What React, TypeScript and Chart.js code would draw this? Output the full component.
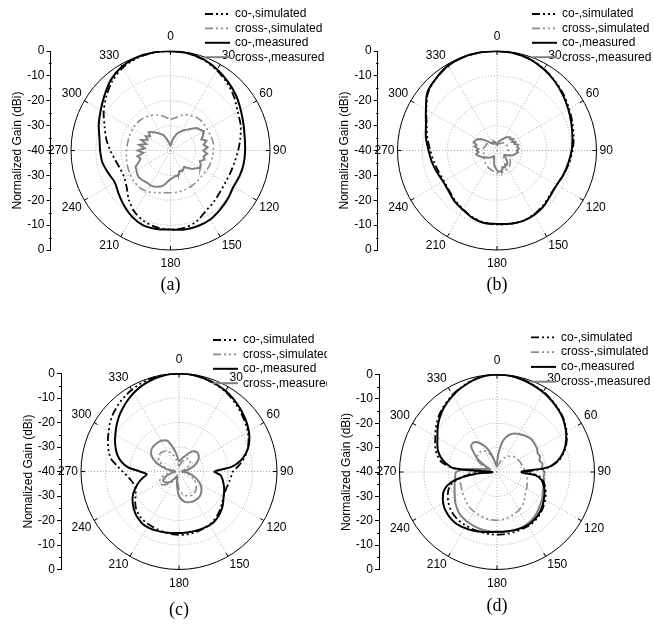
import React, { useEffect, useRef } from "react";
import { Chart, registerables } from "chart.js";

Chart.register(...registerables);
Chart.defaults.font.family = 'Arial, "Liberation Sans", Helvetica, sans-serif';
Chart.defaults.font.size = 12;
Chart.defaults.color = "#000";

// ---------- categories / labels ----------
const ANGLES_10 = Array.from({ length: 36 }, (_, i) => i * 10);
const ANGLES_5 = Array.from({ length: 72 }, (_, i) => i * 5);
const ANGLE_TICKS = [0, 30, 60, 90, 120, 150, 180, 210, 240, 270, 300, 330];
const ANGLE_LABELS = ["0", "30", "60", "90", "120", "150", "180", "210", "240", "270", "300", "330"];
const RING_VALUES = [-30, -20, -10];
const GAIN_MIN = -40;
const GAIN_MAX = 0;
const LEGEND_LABELS = ["co-,simulated", "cross-,simulated", "co-,measured", "cross-,measured"];

// ---------- panel (a) ----------
const A_CO_SIM = [0, -0.3, -1.2, -2.8, -4.6, -6.6, -8.8, -10.0, -11.5, -12.8, -13.8, -14.3, -14.5, -14.0, -13.0, -11.8, -9.6, -8.4, -8.2, -8.6, -9.6, -11.3, -14.0, -17.0, -18.5, -18.5, -17.5, -15.8, -13.8, -11.8, -9.0, -6.3, -3.6, -1.6, -0.5, -0.1];
const A_CO_MEAS = [0, -0.3, -1.0, -2.4, -4.0, -5.6, -7.4, -8.8, -9.7, -10.0, -10.1, -10.4, -10.8, -9.9, -9.0, -8.0, -7.7, -7.7, -8.2, -8.0, -8.0, -9.2, -11.0, -12.8, -14.2, -13.4, -12.2, -11.7, -11.0, -9.3, -7.6, -5.4, -2.8, -1.0, -0.2, 0];
const A_X_SIM = [-27.5, -26.5, -24.8, -23.8, -23, -22.8, -23, -22.8, -22.5, -22.8, -23, -23.2, -23.5, -23.8, -23.6, -23.4, -23.2, -23, -23, -22.8, -22, -21, -20.6, -20.8, -21.2, -21.6, -22, -22.3, -22.5, -22.5, -22.5, -22.6, -23, -23.8, -24.8, -26.2];
const A_X_MEAS = [
  -38, -37.5, -36, -34.5, -33, -32, -31, -30, -29, -27.5, -26, -25.5,
  -24.5, -25.5, -26.8, -25, -26.5, -25, -26.8, -25.2, -26.5, -25.8, -27.5, -26.5,
  -26.2, -27.5, -28.5, -30, -31.5, -31, -30.5, -31, -30, -29.5, -29.5, -29,
  -28.5, -27.5, -26, -25, -24.5, -24, -23.8, -24, -23.8, -23.5, -23.3, -23.6,
  -24.2, -24.5, -26.5, -27.5, -26.5, -29, -26.8, -29.5, -27.2, -30, -27.5, -29.8,
  -28.5, -30, -28.5, -29.5, -30.5, -31.5, -32.5, -33, -34.5, -36, -37, -38,
];

// ---------- panel (b) ----------
const B_CO_SIM = [0, -0.3, -1.0, -2.2, -3.6, -5.0, -6.5, -7.7, -8.7, -9.6, -10.6, -11.5, -12.3, -12.2, -11.2, -10.3, -9.9, -10.0, -10.3, -10.5, -11.4, -12.7, -13.8, -14.9, -15.4, -15.0, -14.2, -13.2, -11.6, -9.9, -7.2, -3.8, -2.1, -0.7, -0.1, 0];
const B_CO_MEAS = [0, -0.3, -1.0, -2.3, -3.8, -5.4, -6.9, -8.2, -9.2, -10.0, -10.9, -11.6, -12.3, -11.9, -10.8, -10.1, -9.8, -10.1, -10.5, -10.4, -11.2, -12.5, -13.4, -14.6, -15.0, -14.3, -13.4, -12.5, -11.0, -9.6, -7.0, -3.5, -2.0, -0.6, -0.1, 0];
const B_X_SIM = [-38, -37.5, -37, -36.5, -36, -35.5, -35.5, -35.5, -35.5, -35.5, -35, -34.5, -34, -33, -32, -31.5, -31, -31, -31, -31.5, -32, -32.5, -33, -33.5, -34, -34.5, -34.5, -34.5, -34.5, -35, -35, -35.5, -36, -36.5, -37, -37.5];
const B_X_MEAS = [
  -37.5, -37, -36.5, -36, -35.5, -35, -34.5, -33.5, -33, -32.5, -33, -32,
  -33, -31.8, -32.5, -31.2, -31.8, -31.2, -32, -31.5, -32.5, -33, -34, -35.5,
  -36.5, -36.5, -35.5, -34.5, -33.5, -33, -33.5, -32.5, -33, -32, -31.5, -31.5,
  -32, -33, -34, -35.5, -36.5, -37.5, -37.5, -37, -36.5, -36, -35.5, -35,
  -34.5, -33.5, -33, -32, -31.5, -32.5, -31.8, -32.5, -30.8, -31.5, -30, -30.5,
  -31, -32, -33.5, -35, -36, -36.5, -37, -36.5, -36, -36.5, -37, -37.5,
];

// ---------- panel (c) ----------
const C_CO_SIM = [
  0, -0.1, -0.3, -0.7, -1.2, -1.7, -2.3, -3.1, -4.0, -4.9, -5.8, -6.7,
  -7.6, -8.7, -10.0, -11.6, -13.5, -15.8, -18.0, -18.6, -19.0, -19.3, -19.5, -19.4,
  -19.1, -18.4, -17.6, -16.8, -16.0, -15.4, -15.0, -14.7, -14.5, -14.3, -14.2, -14.1,
  -14.1, -14.2, -14.4, -14.6, -14.8, -15.0, -15.1, -15.3, -15.6, -16.2, -17.0, -18.2,
  -19.5, -20.5, -21.0, -20.8, -20.0, -18.8, -17.0, -14.8, -12.0, -10.4, -9.2, -8.0,
  -6.9, -5.6, -4.5, -3.6, -2.8, -2.1, -1.5, -1.0, -0.6, -0.3, -0.1, 0,
];
const C_CO_MEAS = [
  0, -0.1, -0.3, -0.6, -1.0, -1.5, -2.0, -2.7, -3.5, -4.3, -5.2, -6.1,
  -7.1, -8.3, -9.8, -11.8, -14.5, -18.5, -25.5, -23.0, -22.0, -21.2, -20.4, -19.7,
  -19.0, -18.0, -17.0, -16.2, -15.5, -15.0, -14.8, -14.8, -14.8, -14.9, -14.9, -14.9,
  -14.9, -14.8, -14.6, -14.4, -14.2, -14.0, -13.9, -14.0, -14.5, -15.1, -16.0, -17.0,
  -18.1, -19.5, -21.3, -23.0, -25.0, -26.8, -24.0, -19.0, -16.0, -14.0, -12.5, -11.2,
  -10.0, -8.7, -7.4, -6.2, -5.1, -4.0, -3.0, -2.1, -1.4, -0.8, -0.4, -0.1,
];
const C_X_SIM = [-38, -37, -35.5, -34, -33.5, -34, -35.5, -37, -38.5, -39, -37.5, -35, -32.5, -30.8, -29.5, -29, -29.3, -30.5, -33, -36.5, -38, -36, -33.5, -31.5, -31, -32, -35, -37.5, -36, -33, -30.5, -29.5, -29.5, -30.5, -32.5, -36];
const C_X_MEAS = [-36, -35, -33.5, -31, -29.3, -29.5, -31, -33.5, -36.5, -38.5, -36, -33, -30, -28, -26.8, -26.5, -26.7, -27.5, -30, -35, -38, -37, -34.5, -33, -32.5, -34.5, -37, -38.5, -35, -30.5, -27, -25.5, -25.3, -25.5, -26.8, -32];

// ---------- panel (d) ----------
const D_CO_SIM = [
  0, -0.1, -0.3, -0.6, -1.0, -1.5, -2.0, -2.6, -3.3, -4.0, -4.8, -5.8,
  -7.0, -8.4, -10.0, -12.0, -14.5, -19.0, -28.0, -23.0, -21.0, -19.8, -18.8, -17.9,
  -17.2, -16.5, -15.8, -15.3, -14.8, -14.5, -14.4, -14.4, -14.4, -14.4, -14.3, -14.3,
  -14.3, -14.3, -14.4, -14.5, -14.5, -14.5, -14.6, -14.6, -14.7, -15.0, -15.4, -16.0,
  -16.8, -17.7, -18.8, -20.5, -24.0, -29.0, -33.0, -22.5, -17.0, -14.8, -13.2, -12.0,
  -10.8, -9.3, -7.9, -6.6, -5.5, -4.5, -3.5, -2.6, -1.8, -1.1, -0.5, -0.1,
];
const D_CO_MEAS = [
  0, -0.1, -0.3, -0.7, -1.2, -1.7, -2.2, -2.8, -3.5, -4.2, -5.0, -6.1,
  -7.3, -8.7, -10.3, -12.3, -15.0, -19.5, -30.0, -24.0, -21.5, -20.3, -19.3, -18.5,
  -17.8, -17.0, -16.3, -15.7, -15.3, -15.0, -14.8, -14.9, -15.0, -15.2, -15.3, -15.4,
  -15.5, -15.3, -15.0, -14.6, -14.2, -13.8, -13.5, -13.2, -13.0, -13.1, -13.4, -13.8,
  -14.5, -15.5, -16.7, -19.0, -23.5, -31.0, -38.0, -22.0, -18.5, -16.0, -14.2, -13.0,
  -11.8, -10.2, -8.6, -7.2, -5.9, -4.8, -3.8, -2.8, -2.0, -1.2, -0.6, -0.2,
];
const D_X_SIM = [-38, -37, -35, -33, -31.5, -30.5, -30, -29.5, -29, -28.5, -27.5, -26.8, -26, -25, -23.2, -22, -21.2, -20.6, -20.2, -20.3, -20.8, -21.2, -21.8, -22.8, -23.6, -24.2, -24.8, -30, -37, -35, -31, -29.5, -29.2, -30, -32.5, -36];
const D_X_MEAS = [
  -36, -32, -27.5, -25, -23.5, -22.6, -22, -21.5, -21, -20.6, -20.6, -20.8,
  -21, -21.6, -21.2, -22, -21, -21.6, -20.5, -20.8, -20.4, -20.3, -19.8, -19.3,
  -18.5, -18, -17.4, -16.7, -16.1, -15.6, -15.3, -15.1, -15, -15.1, -15.2, -15.3,
  -15.3, -15.4, -15.5, -15.6, -15.8, -16, -16.2, -16.5, -16.8, -17.4, -18.2, -19,
  -20, -20.8, -21.5, -22, -22.5, -22.8, -23.2, -27, -33, -36, -37, -35.5,
  -33, -30, -27.5, -25, -24.5, -25, -26.5, -28.5, -31, -34, -36.5, -37.5,
];

// ---------- styles ----------
const DASH_DOT_DOT = [8, 3, 2, 3, 2, 3, 2, 3];
const STYLES = {
  coSim: { color: "#000000", width: 1.8, dash: DASH_DOT_DOT },
  xSim: { color: "#8c8c8c", width: 1.6, dash: DASH_DOT_DOT },
  coMeas: { color: "#000000", width: 2, dash: [] as number[] },
  xMeas: { color: "#808080", width: 2, dash: [] as number[] },
};
const LEGEND_ORDER = ["coSim", "xSim", "coMeas", "xMeas"];
const GRID_COLOR = "#a8a8a8";
const SANS = 'Arial, "Liberation Sans", Helvetica, sans-serif';
const SERIF = '"Times New Roman", "Liberation Serif", Times, serif';
const AXIS_W = 40;

const PANELS = [
  {
    key: "a", left: 0, top: 0, w: 327, h: 300, axisX: 50.5, cx: 170.5, cy: 150.5, R: 99.5,
    legendX: 205, legendY: 14, legendDy: 14.4, captionY: 285, caption: "(a)",
    yTitle: "Normalized Gain (dBi)", xMeasTension: 0,
    series: {
      coSim: { angles: ANGLES_10, gains: A_CO_SIM }, coMeas: { angles: ANGLES_10, gains: A_CO_MEAS },
      xSim: { angles: ANGLES_10, gains: A_X_SIM }, xMeas: { angles: ANGLES_5, gains: A_X_MEAS },
    },
  },
  {
    key: "b", left: 327, top: 0, w: 327, h: 300, axisX: 50.7, cx: 170, cy: 150.5, R: 99.5,
    legendX: 205, legendY: 14, legendDy: 14.4, captionY: 285, caption: "(b)",
    yTitle: "Normalized Gain (dBi)", xMeasTension: 0,
    series: {
      coSim: { angles: ANGLES_10, gains: B_CO_SIM }, coMeas: { angles: ANGLES_10, gains: B_CO_MEAS },
      xSim: { angles: ANGLES_10, gains: B_X_SIM }, xMeas: { angles: ANGLES_5, gains: B_X_MEAS },
    },
  },
  {
    key: "c", left: 0, top: 320, w: 327, h: 305, axisX: 61, cx: 179, cy: 151.5, R: 98,
    legendX: 213, legendY: 20, legendDy: 14.4, captionY: 290, caption: "(c)",
    yTitle: "Nomalized Gain (dBi)", xMeasTension: 0.3,
    series: {
      coSim: { angles: ANGLES_5, gains: C_CO_SIM }, coMeas: { angles: ANGLES_5, gains: C_CO_MEAS },
      xSim: { angles: ANGLES_10, gains: C_X_SIM }, xMeas: { angles: ANGLES_10, gains: C_X_MEAS },
    },
  },
  {
    key: "d", left: 327, top: 320, w: 327, h: 305, axisX: 52, cx: 170, cy: 152, R: 97.5,
    legendX: 204, legendY: 17.3, legendDy: 14.8, captionY: 286.7, caption: "(d)",
    yTitle: "Normalized Gain (dBi)", xMeasTension: 0.2,
    series: {
      coSim: { angles: ANGLES_5, gains: D_CO_SIM }, coMeas: { angles: ANGLES_5, gains: D_CO_MEAS },
      xSim: { angles: ANGLES_10, gains: D_X_SIM }, xMeas: { angles: ANGLES_5, gains: D_X_MEAS },
    },
  },
];

function toPoints(angles: number[], gains: number[]) {
  const pts = angles.map((a, i) => {
    const r = Math.max(0, gains[i] - GAIN_MIN);
    const t = (a * Math.PI) / 180;
    return { x: r * Math.sin(t), y: r * Math.cos(t) };
  });
  pts.push({ ...pts[0] });
  return pts;
}

function decorPlugin(p: any) {
  return {
    id: "polarDecor",
    beforeDatasetsDraw(chart: any) {
      const { ctx } = chart;
      const xs = chart.scales.x;
      const ys = chart.scales.y;
      const cx = xs.getPixelForValue(0);
      const cy = ys.getPixelForValue(0);
      const rad = (g: number) => cy - ys.getPixelForValue(g - GAIN_MIN);
      const R = rad(GAIN_MAX);
      ctx.save();
      ctx.lineWidth = 1;
      ctx.strokeStyle = GRID_COLOR;
      ctx.setLineDash([1, 2]);
      RING_VALUES.forEach((g) => {
        ctx.beginPath();
        ctx.arc(cx, cy, rad(g), 0, Math.PI * 2);
        ctx.stroke();
      });
      ANGLE_TICKS.forEach((a) => {
        const t = (a * Math.PI) / 180;
        ctx.beginPath();
        ctx.moveTo(cx, cy);
        ctx.lineTo(cx + R * Math.sin(t), cy - R * Math.cos(t));
        ctx.stroke();
      });
      ctx.setLineDash([]);
      ctx.strokeStyle = "#000";
      ctx.beginPath();
      ctx.arc(cx, cy, R, 0, Math.PI * 2);
      ctx.stroke();
      ANGLE_TICKS.forEach((a) => {
        const t = (a * Math.PI) / 180;
        ctx.beginPath();
        ctx.moveTo(cx + R * Math.sin(t), cy - R * Math.cos(t));
        ctx.lineTo(cx + (R - 4) * Math.sin(t), cy - (R - 4) * Math.cos(t));
        ctx.stroke();
      });
      ctx.restore();
    },
    afterDraw(chart: any) {
      const { ctx, chartArea } = chart;
      const xs = chart.scales.x;
      const ys = chart.scales.y;
      const cx = xs.getPixelForValue(0);
      const cy = ys.getPixelForValue(0);
      const R = cy - ys.getPixelForValue(GAIN_MAX - GAIN_MIN);
      ctx.save();
      // minor ticks on the gain axis
      ctx.strokeStyle = "#000";
      ctx.lineWidth = 1;
      const ax = Math.round(chartArea.left) + 0.5;
      for (let v = -35; v <= 35; v += 10) {
        const y = Math.round(ys.getPixelForValue(v)) + 0.5;
        ctx.beginPath();
        ctx.moveTo(ax - 2.5, y);
        ctx.lineTo(ax, y);
        ctx.stroke();
      }
      // angle labels
      ctx.fillStyle = "#000";
      ctx.font = `12px ${SANS}`;
      ANGLE_TICKS.forEach((a, i) => {
        const t = (a * Math.PI) / 180;
        const sx = Math.sin(t);
        const sy = -Math.cos(t);
        const gap = Math.abs(sx) < 0.1 ? 8 : 3;
        const px = cx + (R + gap) * sx;
        const py = cy + (R + gap) * sy;
        ctx.textAlign = sx > 0.1 ? "left" : sx < -0.1 ? "right" : "center";
        ctx.textBaseline = sy < -0.1 ? "bottom" : sy > 0.1 ? "top" : "middle";
        ctx.fillText(ANGLE_LABELS[i], px, py);
      });
      // legend
      LEGEND_ORDER.forEach((k, i) => {
        const st = (STYLES as any)[k];
        const y = p.legendY + i * p.legendDy;
        ctx.strokeStyle = st.color;
        ctx.lineWidth = st.width;
        ctx.setLineDash(st.dash);
        ctx.beginPath();
        ctx.moveTo(p.legendX, y);
        ctx.lineTo(p.legendX + 25, y);
        ctx.stroke();
        ctx.setLineDash([]);
        ctx.fillStyle = "#000";
        ctx.textAlign = "left";
        ctx.textBaseline = "middle";
        ctx.fillText(LEGEND_LABELS[i], p.legendX + 30, y);
      });
      // caption
      ctx.font = `18px ${SERIF}`;
      ctx.textAlign = "center";
      ctx.textBaseline = "middle";
      ctx.fillText(p.caption, cx, p.captionY);
      ctx.restore();
    },
  };
}

function buildConfig(p: any): any {
  const ppu = p.R / (GAIN_MAX - GAIN_MIN);
  const mk = (k: string, tension: number) => {
    const st = (STYLES as any)[k];
    const s = p.series[k];
    return {
      label: k,
      data: toPoints(s.angles, s.gains),
      showLine: true,
      pointRadius: 0,
      pointHoverRadius: 0,
      borderColor: st.color,
      backgroundColor: st.color,
      borderWidth: st.width,
      borderDash: st.dash,
      tension,
      fill: false,
    };
  };
  return {
    type: "scatter",
    data: {
      datasets: [mk("coMeas", 0.3), mk("coSim", 0.3), mk("xMeas", p.xMeasTension), mk("xSim", 0.3)],
    },
    options: {
      responsive: false,
      maintainAspectRatio: false,
      animation: false,
      events: [],
      layout: {
        padding: { left: p.axisX - AXIS_W, right: 0, top: p.cy - p.R, bottom: p.h - p.cy - p.R },
      },
      plugins: { legend: { display: false }, tooltip: { enabled: false }, title: { display: false } },
      scales: {
        x: { type: "linear", display: false, min: -(p.cx - p.axisX) / ppu, max: (p.w - p.cx) / ppu },
        y: {
          type: "linear",
          position: "left",
          min: GAIN_MIN,
          max: -GAIN_MIN,
          afterFit: (scale: any) => {
            scale.width = AXIS_W;
          },
          ticks: {
            stepSize: 10,
            autoSkip: false,
            color: "#000",
            padding: 2,
            font: { size: 12 },
            callback: (v: number) => String(Math.abs(v) + GAIN_MIN),
          },
          grid: { drawOnChartArea: false, drawTicks: true, tickLength: 4, color: "#000", tickColor: "#000" },
          border: { display: true, color: "#000", width: 1 },
          title: { display: true, text: p.yTitle, color: "#000", font: { size: 12 }, padding: 0 },
        },
      },
    },
    plugins: [decorPlugin(p)],
  };
}

function PolarPanel({ p }: { p: any }) {
  const ref = useRef<HTMLCanvasElement | null>(null);
  useEffect(() => {
    if (!ref.current) return;
    const chart = new Chart(ref.current, buildConfig(p));
    return () => chart.destroy();
  }, [p]);
  return (
    <canvas
      ref={ref}
      width={p.w}
      height={p.h}
      style={{ position: "absolute", left: p.left, top: p.top, width: p.w, height: p.h }}
    />
  );
}

export default function App() {
  return (
    <div style={{ position: "absolute", left: 0, top: 0, width: 654, height: 625, background: "#fff", overflow: "hidden" }}>
      {PANELS.map((p) => (
        <PolarPanel key={p.key} p={p} />
      ))}
    </div>
  );
}
